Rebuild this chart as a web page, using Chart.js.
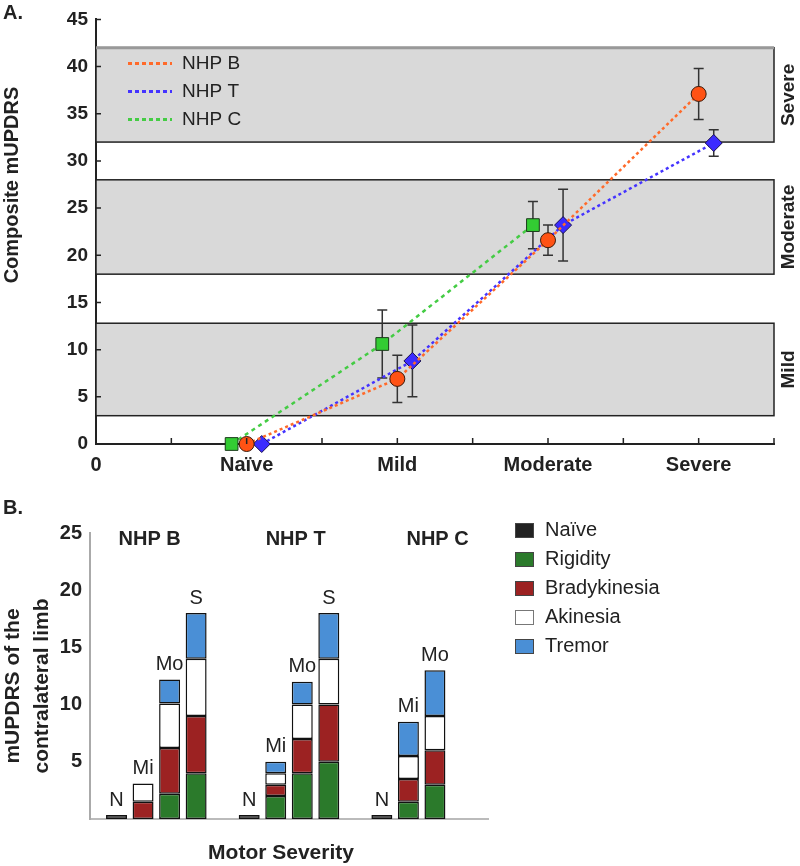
<!DOCTYPE html>
<html>
<head>
<meta charset="utf-8">
<script src="https://cdn.jsdelivr.net/npm/chart.js@4"></script>
<style>
html, body { margin: 0; padding: 0; background: #fff; }
#wrapA { position: absolute; left: 0; top: 0; width: 800px; height: 480px; }
#wrapB { position: absolute; left: 0; top: 480px; width: 800px; height: 386px; }
</style>
</head>
<body>
<div id="wrapA"><canvas id="chartA"></canvas></div>
<div id="wrapB"><canvas id="chartB"></canvas></div>
<script>
// ==================================== data, panel A
const stageTicks = [0, 2, 4, 6, 8];
const stageLabels = ['0', 'Naïve', 'Mild', 'Moderate', 'Severe'];
const stageX = [2, 4, 6, 8];
const nhpB = [0, 6.9, 21.6, 37.1];
const nhpBErr = [0, 2.5, 1.6, 2.7];
const nhpT = [0, 8.8, 23.2, 31.9];
const nhpTErr = [0, 3.8, 3.8, 1.4];
const nhpC = [0, 10.6, 23.2];
const nhpCErr = [0, 3.6, 2.5];
const bandNames = ['Mild', 'Moderate', 'Severe'];
const bandLow = [3, 18, 32];
const bandHigh = [12.8, 28, 42];

// ==================================== data, panel B
const barLabels = ['', 'N', 'Mi', 'Mo', 'S', '', 'N', 'Mi', 'Mo', 'S', '', 'N', 'Mi', 'Mo', '', ''];
const naive = [null, 0.35, null, null, null, null, 0.35, null, null, null, null, 0.35, null, null, null, null];
const rigidity = [null, null, null, 2.2, 4, null, null, 2, 4, 5, null, null, 1.5, 3, null, null];
const bradykinesia = [null, null, 1.5, 4, 5, null, null, 1, 3, 5, null, null, 2, 3, null, null];
const akinesia = [null, null, 1.6, 3.9, 5, null, null, 1, 3, 4, null, null, 2, 3, null, null];
const tremor = [null, null, null, 2.1, 4, null, null, 1, 2, 4, null, null, 3, 4, null, null];
const groupNames = ['NHP B', 'NHP T', 'NHP C'];
const groupTitleAt = [2.25, 7.75, 13.1];

const FONT = "'Liberation Sans', Arial, sans-serif";
Chart.defaults.font.family = FONT;
Chart.defaults.color = '#222';
Chart.defaults.animation = false;

// ==================================== panel A
function points(values, errs, shift) {
    return values.map((v, i) => ({ x: stageX[i] + shift, y: v, err: errs[i] }))
}

const bandsPlugin = {
    id: 'bands',
    beforeDatasetsDraw(chart) {
        const { ctx, chartArea: a, scales: { y } } = chart;
        ctx.save();
        bandLow.forEach((lo, i) => {
            const top = y.getPixelForValue(bandHigh[i]);
            const bot = y.getPixelForValue(lo);
            ctx.fillStyle = '#d9d9d9';
            ctx.fillRect(a.left, top, a.right - a.left, bot - top);
            ctx.strokeStyle = '#222';
            ctx.lineWidth = 1.5;
            ctx.strokeRect(a.left, top, a.right - a.left, bot - top);
            if (i === bandLow.length - 1) {
                ctx.strokeStyle = '#999';
                ctx.lineWidth = 3;
                ctx.beginPath();
                ctx.moveTo(a.left, top);
                ctx.lineTo(a.right, top);
                ctx.stroke();
            }
            ctx.save();
            ctx.translate(a.right + 15, (top + bot) / 2);
            ctx.rotate(-Math.PI / 2);
            ctx.font = 'bold 19px ' + FONT;
            ctx.fillStyle = '#222';
            ctx.textAlign = 'center';
            ctx.textBaseline = 'middle';
            ctx.fillText(bandNames[i], 0, 0);
            ctx.restore();
        });
        ctx.restore();
    }
};

const errorBarsPlugin = {
    id: 'errorBars',
    beforeDatasetsDraw(chart) {
        const { ctx, scales: { x, y } } = chart;
        ctx.save();
        ctx.strokeStyle = '#333';
        ctx.lineWidth = 1.5;
        chart.data.datasets.forEach(ds => {
            ds.data.forEach(p => {
                if (!p.err) return;
                const px = x.getPixelForValue(p.x);
                const hi = y.getPixelForValue(p.y + p.err);
                const lo = y.getPixelForValue(p.y - p.err);
                ctx.beginPath();
                ctx.moveTo(px, hi); ctx.lineTo(px, lo);
                ctx.moveTo(px - 5, hi); ctx.lineTo(px + 5, hi);
                ctx.moveTo(px - 5, lo); ctx.lineTo(px + 5, lo);
                ctx.stroke();
            });
        });
        ctx.restore();
    }
};

const decorAPlugin = {
    id: 'decorA',
    afterDraw(chart) {
        const { ctx, chartArea: a, scales: { x, y } } = chart;
        ctx.save();
        // inward tick marks
        ctx.strokeStyle = '#222';
        ctx.lineWidth = 1.5;
        ctx.beginPath();
        for (let v = 5; v <= 45; v += 5) {
            const py = y.getPixelForValue(v);
            ctx.moveTo(a.left, py); ctx.lineTo(a.left + 5, py);
        }
        for (let v = 1; v <= 9; v++) {
            const px = x.getPixelForValue(v);
            ctx.moveTo(px, a.bottom); ctx.lineTo(px, a.bottom - 6);
        }
        ctx.stroke();

        // legend
        ctx.font = '19px ' + FONT;
        ctx.textBaseline = 'middle';
        chart.data.datasets.forEach((ds, i) => {
            const ly = a.top + 44 + 28 * i;
            ctx.strokeStyle = ds.borderColor;
            ctx.lineWidth = 3;
            ctx.setLineDash([4, 3]);
            ctx.beginPath();
            ctx.moveTo(a.left + 32, ly); ctx.lineTo(a.left + 76, ly);
            ctx.stroke();
            ctx.setLineDash([]);
            ctx.fillStyle = '#222';
            ctx.fillText(ds.label, a.left + 86, ly);
        });

        // titles
        ctx.fillStyle = '#222';
        ctx.font = 'bold 20px ' + FONT;
        ctx.textAlign = 'left';
        ctx.fillText('A.', 3, 13);
        ctx.save();
        ctx.translate(12, 185);
        ctx.rotate(-Math.PI / 2);
        ctx.textAlign = 'center';
        ctx.font = 'bold 20px ' + FONT;
        ctx.fillText('Composite mUPDRS', 0, 0);
        ctx.restore();
        ctx.restore();
    }
};

new Chart(document.querySelector('#chartA'), {
    type: 'line',
    data: {
        datasets: [
            {
                label: 'NHP B',
                data: points(nhpB, nhpBErr, 0),
                borderColor: '#ff6a2a',
                borderWidth: 2.5,
                borderDash: [3, 3],
                pointStyle: 'circle',
                pointRadius: 7.5,
                pointBackgroundColor: '#ff5214',
                pointBorderColor: '#3a1a0a',
                pointBorderWidth: 1,
                clip: false
            },
            {
                label: 'NHP T',
                data: points(nhpT, nhpTErr, 0.2),
                borderColor: '#4433ff',
                borderWidth: 2.5,
                borderDash: [3, 3],
                pointStyle: 'rectRot',
                pointRadius: 8.5,
                pointBackgroundColor: '#3b2bff',
                pointBorderColor: '#1a1050',
                pointBorderWidth: 1,
                clip: false
            },
            {
                label: 'NHP C',
                data: points(nhpC, nhpCErr, -0.2),
                borderColor: '#44cc44',
                borderWidth: 2.5,
                borderDash: [4, 4],
                pointStyle: 'rect',
                pointRadius: 9,
                pointBackgroundColor: '#33cc33',
                pointBorderColor: '#1a3a1a',
                pointBorderWidth: 1,
                clip: false
            }
        ]
    },
    options: {
        responsive: true,
        maintainAspectRatio: false,
        events: [],
        layout: { padding: { left: 0, right: 26, top: 15, bottom: 0 } },
        plugins: { legend: { display: false }, tooltip: { enabled: false } },
        scales: {
            x: {
                type: 'linear',
                min: 0,
                max: 9,
                grid: { display: false, drawTicks: false },
                border: { display: true, color: '#222', width: 2 },
                ticks: {
                    stepSize: 1,
                    autoSkip: false,
                    maxRotation: 0,
                    padding: 9,
                    font: { size: 20, weight: 'bold' },
                    callback: v => {
                        const i = stageTicks.indexOf(v);
                        return i >= 0 ? stageLabels[i] : '';
                    }
                },
                afterFit: s => { s.height = 36; }
            },
            y: {
                min: 0,
                max: 45,
                z: 1,
                grid: { display: false, drawTicks: false },
                border: { display: true, color: '#222', width: 2 },
                ticks: { stepSize: 5, padding: 8, font: { size: 19, weight: 'bold' } },
                afterFit: s => { s.width = 96; }
            }
        }
    },
    plugins: [bandsPlugin, errorBarsPlugin, decorAPlugin]
});

// ==================================== panel B
const decorBPlugin = {
    id: 'decorB',
    afterDraw(chart) {
        const { ctx, chartArea: a, scales: { x, y } } = chart;
        const sets = chart.data.datasets;
        ctx.save();
        ctx.fillStyle = '#222';

        // stage letters above each stack
        ctx.font = '20px ' + FONT;
        ctx.textAlign = 'center';
        ctx.textBaseline = 'bottom';
        barLabels.forEach((lab, i) => {
            if (!lab) return;
            const total = sets.reduce((s, ds) => s + (ds.data[i] || 0), 0);
            ctx.fillText(lab, x.getPixelForValue(i), y.getPixelForValue(total) - 5);
        });

        // subject titles
        ctx.font = 'bold 20px ' + FONT;
        ctx.textBaseline = 'middle';
        groupNames.forEach((g, i) => {
            ctx.fillText(g, x.getPixelForValue(groupTitleAt[i]), a.top + 6);
        });

        // legend
        ctx.textAlign = 'left';
        ctx.font = '20px ' + FONT;
        sets.forEach((ds, i) => {
            const ly = 50 + 29 * i;
            ctx.fillStyle = ds.backgroundColor;
            ctx.fillRect(515, ly - 7, 19, 15);
            ctx.strokeStyle = i === 3 ? '#777' : '#444';
            ctx.lineWidth = 1;
            ctx.strokeRect(515.5, ly - 6.5, 18, 14);
            ctx.fillStyle = '#222';
            ctx.fillText(ds.label, 545, ly);
        });

        // axis titles
        ctx.font = 'bold 21px ' + FONT;
        ctx.textAlign = 'center';
        ctx.fillText('Motor Severity', 281, 373);
        ctx.save();
        ctx.translate(0, 206);
        ctx.rotate(-Math.PI / 2);
        ctx.fillText('mUPDRS of the', 0, 13);
        ctx.fillText('contralateral limb', 0, 42);
        ctx.restore();

        ctx.font = 'bold 20px ' + FONT;
        ctx.textAlign = 'left';
        ctx.fillText('B.', 3, 28);
        ctx.restore();
    }
};

const barStyle = { borderColor: '#111', borderWidth: 1.5, borderSkipped: false, stack: 'limb' };

new Chart(document.querySelector('#chartB'), {
    type: 'bar',
    data: {
        labels: barLabels,
        datasets: [
            { label: 'Naïve', data: naive, backgroundColor: '#222222', ...barStyle },
            { label: 'Rigidity', data: rigidity, backgroundColor: '#2b7a2b', ...barStyle },
            { label: 'Bradykinesia', data: bradykinesia, backgroundColor: '#9c2222', ...barStyle },
            { label: 'Akinesia', data: akinesia, backgroundColor: '#ffffff', ...barStyle },
            { label: 'Tremor', data: tremor, backgroundColor: '#4a8fd6', ...barStyle }
        ]
    },
    options: {
        responsive: true,
        maintainAspectRatio: false,
        events: [],
        categoryPercentage: 1,
        barPercentage: 0.79,
        layout: { padding: { left: 0, right: 312, top: 53, bottom: 0 } },
        plugins: { legend: { display: false }, tooltip: { enabled: false } },
        scales: {
            x: {
                stacked: true,
                offset: false,
                grid: { display: false, drawTicks: false },
                border: { display: true, color: '#bbb', width: 2 },
                ticks: { display: false },
                afterFit: s => { s.height = 47; }
            },
            y: {
                stacked: true,
                min: 0,
                max: 25,
                grid: { display: false, drawTicks: false },
                border: { display: true, color: '#aaa', width: 2 },
                ticks: {
                    stepSize: 5,
                    padding: 8,
                    font: { size: 20, weight: 'bold' },
                    callback: v => v === 0 ? '' : v
                },
                afterFit: s => { s.width = 90; }
            }
        }
    },
    plugins: [decorBPlugin]
});
</script>
</body>
</html>
